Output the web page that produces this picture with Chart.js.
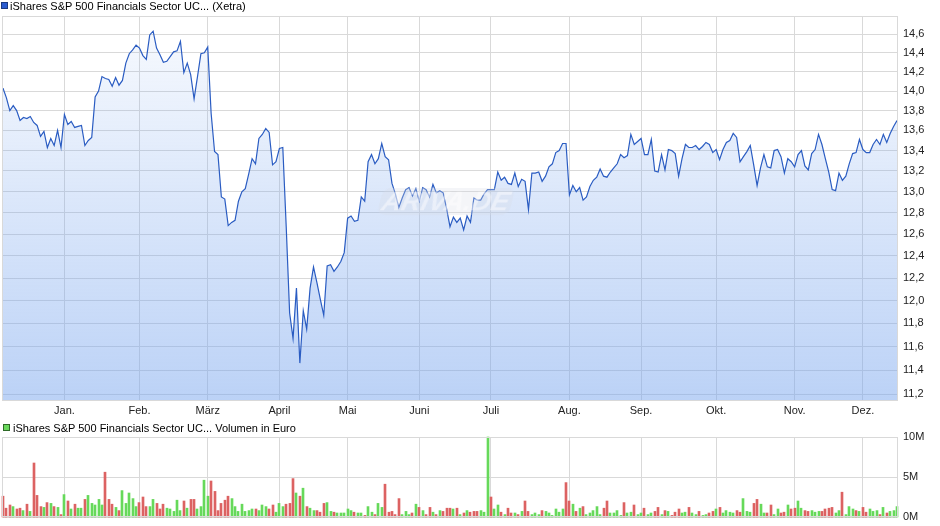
<!DOCTYPE html>
<html><head><meta charset="utf-8">
<script src="https://cdn.jsdelivr.net/npm/chart.js@4.4.1/dist/chart.umd.min.js"></script>
<style>
body{margin:0;background:#fff;width:940px;height:526px;overflow:hidden;position:relative;font-family:"Liberation Sans",Arial,sans-serif;}
canvas{position:absolute;left:0;}
#c1{top:0}
#c2{top:420px}
.leg{position:absolute;font-size:11px;line-height:13px;color:#000;white-space:nowrap}
.sq{position:absolute;width:5px;height:5px;border:1px solid}
.wm{position:absolute;left:380px;top:188px;width:132px;height:27px;border-radius:8px;transform:skewX(-14deg);background:rgba(215,220,230,0.28);color:rgba(255,255,255,0.45);font:italic bold 27px "Liberation Sans",Arial,sans-serif;line-height:27px;text-align:center}
</style></head><body>
<canvas id="c1" width="940" height="420"></canvas>
<canvas id="c2" width="940" height="106"></canvas>
<div class="wm">ARIVA.DE</div>
<div class="sq" style="left:1px;top:2px;background:#2a5bd0;border-color:#1b3a80"></div>
<div class="leg" style="left:10px;top:0px">iShares S&amp;P 500 Financials Sector UC... (Xetra)</div>
<div class="sq" style="left:3px;top:424px;background:#6ad85c;border-color:#2f6a28"></div>
<div class="leg" style="left:13px;top:422px">iShares S&amp;P 500 Financials Sector UC... Volumen in Euro</div>
<script>
const prices = [14.03,13.93,13.80,13.85,13.80,13.70,13.73,13.72,13.74,13.68,
13.65,13.54,13.59,13.43,13.52,13.45,13.60,13.43,13.76,13.66,
13.69,13.63,13.64,13.65,13.45,13.50,13.53,13.94,14.00,14.15,
14.13,14.12,14.05,14.14,14.06,14.11,14.29,14.39,14.43,14.48,
14.45,14.37,14.33,14.59,14.63,14.45,14.38,14.30,14.31,14.36,
14.41,14.42,14.52,14.19,14.29,14.17,13.92,14.15,14.39,14.40,
14.46,13.77,13.39,13.36,12.95,12.93,12.68,12.71,12.73,12.91,
13.00,13.03,13.17,13.32,13.27,13.52,13.56,13.62,13.58,13.26,
13.29,13.42,13.43,12.67,11.89,11.67,12.11,11.46,11.91,11.75,
12.11,12.30,12.16,12.01,11.87,12.31,12.32,12.26,12.30,12.35,
12.43,12.75,12.77,12.72,12.73,12.95,12.91,13.29,13.36,13.27,
13.32,13.47,13.34,13.31,13.08,12.98,12.85,12.94,13.02,13.04,
12.96,13.03,12.91,13.04,13.02,12.95,13.07,12.99,13.01,12.99,
12.84,12.67,12.76,12.71,12.75,12.64,12.77,12.71,12.94,12.92,
12.92,12.98,13.02,13.02,13.02,13.19,13.11,13.14,13.08,13.07,
13.18,13.05,13.12,13.10,12.83,13.18,13.18,13.19,13.10,13.15,
13.24,13.27,13.38,13.40,13.47,13.47,12.97,13.06,13.00,13.04,
12.92,12.95,13.05,13.11,13.14,13.22,13.15,13.14,13.19,13.23,
13.27,13.36,13.33,13.35,13.56,13.46,13.49,13.52,13.36,13.36,
13.51,13.20,13.19,13.36,13.21,13.41,13.40,13.37,13.15,13.32,
13.46,13.43,13.43,13.45,13.41,13.44,13.48,13.46,13.38,13.41,
13.31,13.41,13.48,13.50,13.57,13.53,13.29,13.34,13.39,13.45,
13.26,13.06,13.23,13.36,13.24,13.23,13.40,13.41,13.34,13.18,
13.32,13.29,13.24,13.36,13.40,13.25,13.21,13.37,13.41,13.56,
13.46,13.32,13.19,13.02,13.01,13.18,13.11,13.15,13.27,13.37,
13.38,13.51,13.41,13.38,13.38,13.46,13.51,13.46,13.56,13.48,
13.57,13.64,13.70];

const volumes = [2.6,1.1,1.5,1.3,1.0,1.1,0.8,1.6,0.7,6.75,
2.7,1.3,1.2,1.8,1.7,1.3,1.2,0.3,2.8,2.0,
1.0,1.6,1.1,1.1,2.2,2.7,1.7,1.5,2.2,1.5,
5.6,2.2,1.6,1.2,0.8,3.3,1.7,3.0,2.3,1.3,
1.8,2.5,1.3,1.3,2.2,1.7,1.0,1.6,1.1,1.0,
0.7,2.1,0.8,2.0,1.1,2.2,2.2,1.0,1.3,4.6,
2.6,4.5,3.2,0.8,1.7,2.1,2.6,2.3,1.3,0.7,
1.6,0.7,0.8,1.0,1.0,0.8,1.5,1.3,1.0,1.5,
0.6,1.7,1.3,1.6,1.7,4.8,3.0,2.6,3.6,1.3,
1.1,0.8,0.8,0.6,1.7,1.8,0.7,0.6,0.5,0.5,
0.5,1.0,0.8,0.6,0.5,0.5,0.2,1.3,0.6,0.3,
1.7,1.2,4.1,0.6,0.7,0.3,2.3,0.3,0.7,0.3,
0.5,1.6,1.2,0.8,0.3,1.2,0.6,0.3,0.8,0.7,
1.1,1.1,1.0,1.1,0.3,0.5,0.8,0.6,0.7,0.7,
0.8,0.6,10,2.5,1.0,1.5,0.6,0.3,1.1,0.5,
0.5,0.3,0.7,2.0,0.7,0.3,0.5,0.3,0.8,0.7,
0.5,0.2,1.0,0.6,1.0,4.3,2.0,1.6,0.7,1.1,
1.3,0.3,0.5,0.8,1.3,0.3,1.1,2.0,0.5,0.5,
0.8,0.2,1.8,0.5,0.6,1.5,0.3,0.5,1.1,0.3,
0.5,0.7,1.2,0.3,0.8,0.7,0.2,0.6,1.0,0.5,
0.6,1.2,0.5,0.3,0.7,0.2,0.3,0.5,0.7,1.0,
1.2,0.5,0.8,0.6,0.5,0.8,0.6,2.3,0.7,0.6,
1.7,2.2,1.6,0.5,0.5,1.5,0.3,1.0,0.5,0.6,
1.5,1.0,1.1,2.0,1.1,0.8,0.7,0.8,0.6,0.7,
0.7,1.0,1.1,1.2,0.5,0.8,3.1,0.3,1.3,1.0,
0.8,0.7,1.2,0.6,1.0,0.7,0.8,0.3,1.2,0.5,
0.7,0.8,1.3];

// 1 = day closed up (green), 0 = down (red)
const volumeUp = [0,0,0,1,0,0,1,0,1,0,
0,0,1,0,1,0,1,0,1,0,
1,0,1,1,0,1,1,1,1,1,
0,0,0,1,0,1,1,1,1,1,
0,0,0,1,1,0,0,0,1,1,
1,1,1,0,1,0,0,1,1,1,
1,0,0,0,0,0,0,1,1,1,
1,1,1,1,0,1,1,1,0,0,
1,1,1,0,0,0,1,0,1,0,
1,1,0,0,0,1,1,0,1,1,
1,1,1,0,1,1,0,1,1,0,
1,1,0,0,0,0,0,1,1,1,
0,1,0,1,0,0,1,0,1,0,
0,0,1,0,1,0,1,0,0,0,
1,1,1,0,1,1,0,1,0,0,
1,0,1,0,0,1,1,1,0,1,
1,1,1,1,1,0,0,1,0,1,
0,1,1,1,1,1,0,0,1,1,
1,1,0,1,1,0,1,1,0,1,
1,0,0,1,0,1,0,0,0,1,
1,0,1,1,0,1,1,0,0,1,
0,1,1,1,1,0,0,1,1,1,
0,0,1,1,0,0,1,1,0,0,
1,0,0,1,1,0,0,1,1,1,
0,0,0,0,1,1,0,1,1,1,
0,1,0,0,1,1,1,0,1,0,
1,1,1];

const monthIndex = [18,40,60,81,101,122,143,166,187,209,232,252];
const monthLabels = ['Jan.','Feb.','März','April','Mai','Juni','Juli','Aug.','Sep.','Okt.','Nov.','Dez.'];
const priceTicks = [11.2,11.4,11.6,11.8,12.0,12.2,12.4,12.6,12.8,13.0,13.2,13.4,13.6,13.8,14.0,14.2,14.4,14.6];
const volumeTicks = [0,5,10];

const GRID = '#d9d9d9';
Chart.defaults.font = {family:'"Liberation Sans", Arial, sans-serif', size:11};
Chart.defaults.color = '#222';

const frame = {
  id:'frame',
  afterDatasetsDraw(chart){
    const {ctx, chartArea:a} = chart;
    ctx.save();
    ctx.strokeStyle = GRID; ctx.lineWidth = 1;
    ctx.strokeRect(Math.round(a.left)-0.5, Math.round(a.top)+0.5, Math.round(a.right-a.left)+1, Math.round(a.bottom-a.top)-1);
    ctx.restore();
  }
};
// snap bars to whole pixels so 2px bars stay crisp
const snapBars = {
  id:'snapBars',
  beforeDatasetsDraw(chart){
    chart.getDatasetMeta(0).data.forEach(el => { el.x = Math.round(el.x - 1) + 1; el.base = Math.round(el.base); });
  }
};

const N = prices.length;
const xMonthTicks = (scale) => { scale.ticks = monthIndex.map(v => ({value:v})); };

new Chart(document.getElementById('c1'), {
  type:'line',
  data:{datasets:[{
    data: prices.map((v,i)=>({x:i,y:v})),
    borderColor:'#2a5cc2',
    borderWidth:1.2,
    pointRadius:0,
    tension:0,
    fill:'start',
    backgroundColor:(c)=>{
      const a = c.chart.chartArea; if(!a) return 'rgba(120,165,238,0.3)';
      const g = c.chart.ctx.createLinearGradient(0,a.top,0,a.bottom);
      g.addColorStop(0,'rgba(120,165,238,0.05)');
      g.addColorStop(1,'rgba(120,165,238,0.5)');
      return g;
    }
  }]},
  options:{
    responsive:false, animation:false,
    layout:{padding:{left:3, top:16, right:0, bottom:0}},
    plugins:{legend:{display:false}, tooltip:{enabled:false}},
    scales:{
      x:{type:'linear', min:0, max:N-1,
        afterBuildTicks:xMonthTicks,
        afterFit:(s)=>{s.height=19;},
        grid:{color:GRID, drawTicks:false},
        border:{display:false},
        ticks:{autoSkip:false, maxRotation:0, padding:3, color:'#222',
          callback:(v)=>monthLabels[monthIndex.indexOf(v)]}
      },
      y:{type:'logarithmic', position:'right', min:11.1447, max:14.7947,
        afterBuildTicks:(s)=>{s.ticks = priceTicks.map(v=>({value:v}));},
        afterFit:(s)=>{s.width=43;},
        grid:{color:GRID, drawTicks:false},
        border:{display:false},
        ticks:{padding:6, color:'#222', callback:(v)=>Number(v).toFixed(1).replace('.',',')}
      }
    }
  },
  plugins:[frame]
});

new Chart(document.getElementById('c2'), {
  type:'bar',
  data:{datasets:[{
    data: volumes.map((v,i)=>({x:i,y:v})),
    backgroundColor: volumeUp.map(u => u ? '#66d95a' : '#dc6262'),
    barThickness:2,
    clip:false
  }]},
  options:{
    responsive:false, animation:false,
    layout:{padding:{left:3, top:17, right:0, bottom:9}},
    plugins:{legend:{display:false}, tooltip:{enabled:false}},
    scales:{
      x:{type:'linear', min:0, max:N-1, offset:false,
        afterBuildTicks:xMonthTicks,
        afterFit:(s)=>{s.height=0;},
        grid:{color:GRID, drawTicks:false, offset:false},
        border:{display:false},
        ticks:{display:false}
      },
      y:{type:'linear', position:'right', min:0, max:10,
        afterBuildTicks:(s)=>{s.ticks = volumeTicks.map(v=>({value:v}));},
        afterFit:(s)=>{s.width=43; s.paddingBottom=0; s.paddingTop=0;},
        grid:{color:GRID, drawTicks:false},
        border:{display:false},
        ticks:{padding:6, color:'#222', callback:(v)=>v+'M'}
      }
    }
  },
  plugins:[frame, snapBars]
});
</script>
</body></html>
